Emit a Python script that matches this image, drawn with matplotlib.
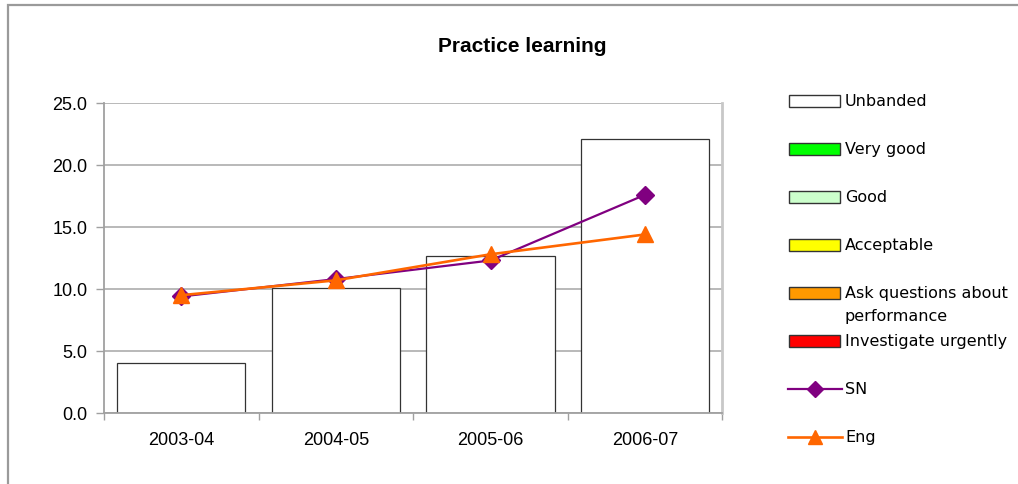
import matplotlib.pyplot as plt
from matplotlib.patches import Rectangle
from matplotlib.lines import Line2D

years = ["2003-04", "2004-05", "2005-06", "2006-07"]
unbanded = [4.0, 10.1, 12.7, 22.1]
sn = [9.4, 10.8, 12.3, 17.6]
eng = [9.5, 10.7, 12.8, 14.4]

band_labels = ["Unbanded", "Very good", "Good", "Acceptable",
               "Ask questions about\nperformance", "Investigate urgently"]
band_colors = ["white", "#00ff00", "#ccffcc", "#ffff00", "#ff9900", "#ff0000"]

W, H = 1018, 485
fig = plt.figure(figsize=(W / 100, H / 100), dpi=100)
ax = fig.add_axes([104 / W, 1 - 414 / H, 618.5 / W, 310 / H])

x = range(len(years))
ax.bar(x, unbanded, 0.83, color="white", edgecolor="#333333", linewidth=0.9, zorder=2)
ax.plot(x, sn, color="#800080", lw=1.6, marker="D", ms=9.5, zorder=3)
ax.plot(x, eng, color="#ff6600", lw=1.9, marker="^", ms=11, zorder=4)

ax.set_xlim(-0.5, len(years) - 0.5)
ax.set_ylim(0, 25)
ax.set_yticks([0, 5, 10, 15, 20, 25])
ax.set_yticklabels([f"{v:.1f}" for v in [0, 5, 10, 15, 20, 25]],
                   fontsize=13, family="Liberation Sans")
ax.yaxis.grid(True, color="#a6a6a6", lw=1.1, zorder=0)
ax.set_axisbelow(True)

# category labels centred, tick marks between categories
ax.set_xticks([i - 0.5 for i in range(len(years) + 1)])
ax.set_xticklabels([])
ax.set_xticks(list(x), minor=True)
ax.set_xticklabels(years, minor=True, fontsize=13, family="Liberation Sans")
ax.tick_params(axis="x", which="minor", length=0, pad=13)
ax.tick_params(axis="x", which="major", length=5, color="#a0a0a0", width=1)
ax.tick_params(axis="y", length=6, color="#a0a0a0", width=1, pad=6)

for s in ["left", "bottom"]:
    ax.spines[s].set_color("#a0a0a0")
    ax.spines[s].set_linewidth(1.3)
ax.spines["top"].set_visible(False)
ax.spines["right"].set_color("#c8c8c8")
ax.spines["right"].set_linewidth(2)

fig.text(522 / W, 1 - 46 / H, "Practice learning", ha="center", va="center",
         fontsize=15, fontweight="bold", family="Liberation Sans")

# legend drawn in pixel space on the right
lg = fig.add_axes([0, 0, 1, 1], zorder=5)
lg.set_xlim(0, W)
lg.set_ylim(H, 0)
lg.axis("off")
rows = [102 + 48 * i for i in range(8)]
for yy, lab, col in zip(rows, band_labels, band_colors):
    lg.add_patch(Rectangle((789, yy - 6), 51, 12, facecolor=col,
                           edgecolor="#333333", lw=1))
    first, *rest = lab.split("\n")
    lg.text(845, yy, first, va="center", fontsize=11.5, family="DejaVu Sans")
    for k, extra in enumerate(rest, 1):
        lg.text(845, yy + 23 * k, extra, va="center", fontsize=11.5, family="DejaVu Sans")
lg.add_line(Line2D([788, 842], [rows[6]] * 2, color="#800080", lw=1.6))
lg.plot([815], [rows[6]], marker="D", ms=8.5, color="#800080")
lg.text(845, rows[6], "SN", va="center", fontsize=11.5, family="DejaVu Sans")
lg.add_line(Line2D([788, 842], [rows[7]] * 2, color="#ff6600", lw=1.9))
lg.plot([815], [rows[7]], marker="^", ms=10, color="#ff6600")
lg.text(845, rows[7], "Eng", va="center", fontsize=11.5, family="DejaVu Sans")

# outer chart frame
fig.add_artist(Rectangle((8 / W, -0.1), 1.2, 1.1 - 6 / H, transform=fig.transFigure,
                         fill=False, edgecolor="#9a9a9a", lw=1.6))

fig.savefig("out.png", dpi=100)
